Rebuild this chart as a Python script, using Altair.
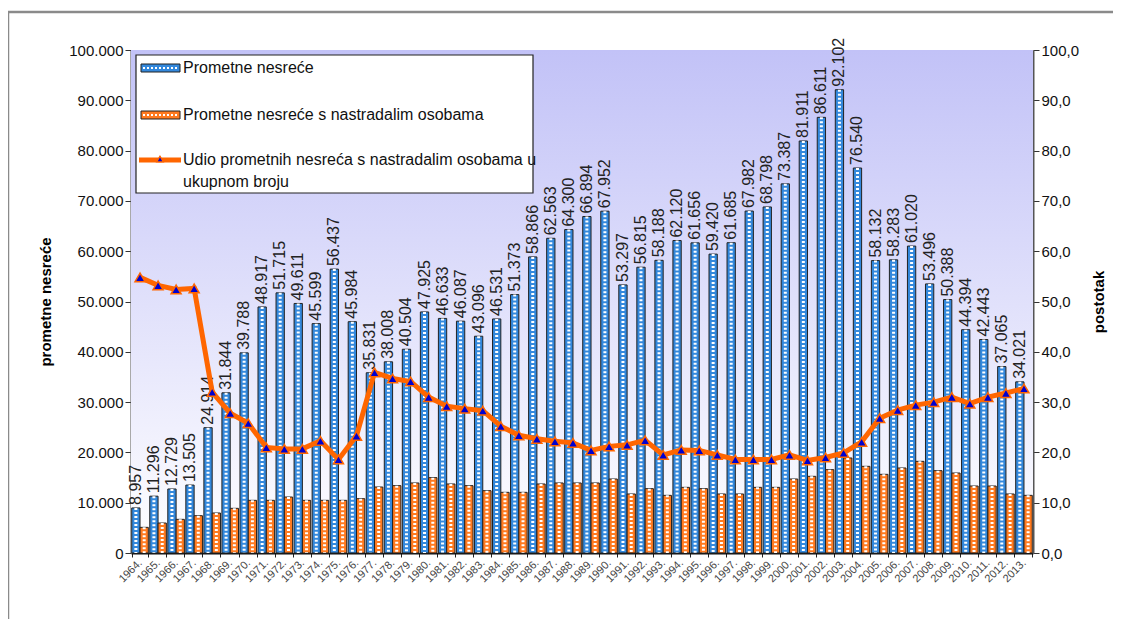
import altair as alt
import pandas as pd

years = ["1964.", "1965.", "1966.", "1967.", "1968.", "1969.", "1970.", "1971.", "1972.", "1973.",
         "1974.", "1975.", "1976.", "1977.", "1978.", "1979.", "1980.", "1981.", "1982.", "1983.",
         "1984.", "1985.", "1986.", "1987.", "1988.", "1989.", "1990.", "1991.", "1992.", "1993.",
         "1994.", "1995.", "1996.", "1997.", "1998.", "1999.", "2000.", "2001.", "2002.", "2003.",
         "2004.", "2005.", "2006.", "2007.", "2008.", "2009.", "2010.", "2011.", "2012.", "2013."]

total = [8957, 11296, 12729, 13505, 24914, 31844, 39788, 48917, 51715, 49611,
         45599, 56437, 45984, 35831, 38008, 40504, 47925, 46633, 46087, 43096,
         46531, 51373, 58866, 62563, 64300, 66894, 67952, 53297, 56815, 58188,
         62120, 61656, 59420, 61685, 67982, 68798, 73387, 81911, 86611, 92102,
         76540, 58132, 58283, 61020, 53496, 50388, 44394, 42443, 37065, 34021]

injured = [5100, 5960, 6690, 7420, 7950, 8880, 10470, 10470, 11130, 10470,
           10470, 10470, 10800, 13120, 13390, 13920, 14980, 13720, 13390, 12390,
           12060, 12060, 13720, 13920, 13920, 13920, 14710, 11730, 12790, 11460,
           13050, 12790, 11730, 11730, 13050, 13050, 14710, 15240, 16570, 18890,
           17230, 15640, 16900, 18220, 16370, 15900, 13320, 13320, 11730, 11460]

share = [54.8, 53.2, 52.4, 52.6, 32.0, 27.8, 25.8, 21.0, 20.7, 20.7,
         22.3, 18.6, 23.3, 35.9, 34.7, 34.1, 31.0, 29.2, 28.7, 28.3,
         25.2, 23.4, 22.7, 22.2, 21.9, 20.4, 21.2, 21.5, 22.4, 19.5,
         20.5, 20.4, 19.5, 18.6, 18.6, 18.6, 19.5, 18.4, 19.0, 19.9,
         22.1, 26.8, 28.4, 29.4, 30.0, 31.0, 29.7, 31.0, 31.8, 32.7]

S1 = "Prometne nesreće"
S2 = "Prometne nesreće s nastradalim osobama"
S3a = "Udio prometnih nesreća s nastradalim osobama u"
S3b = "ukupnom broju"
left_title = "prometne nesreće"
right_title = "postotak"
left_ticks = [0, 10000, 20000, 30000, 40000, 50000, 60000, 70000, 80000, 90000, 100000]
right_ticks = [0, 10, 20, 30, 40, 50, 60, 70, 80, 90, 100]

BLUE = "#3388dc"
ORANGE = "#ff7a1f"
LINE = "#ff6600"
TRI = "#0000d0"
FONT = "Liberation Sans"

W, H = 902, 503

df = pd.DataFrame({"godina": years, S1: total, S2: injured, "udio": share})

x_enc = alt.X("godina:N", sort=years,
              scale=alt.Scale(paddingInner=0.08, paddingOuter=0.04),
              axis=alt.Axis(title=None, labelAngle=-45, labelAlign="right", labelBaseline="middle",
                            labelFontSize=11, labelColor="#444", labelPadding=4, tickBand="extent",
                            tickSize=4, tickColor="#222", domainColor="#111", domainWidth=2))
xo_enc = alt.XOffset("serija:N", sort=[S1, S2], scale=alt.Scale(paddingInner=0, paddingOuter=0))
y_left = alt.Y("vrijednost:Q", scale=alt.Scale(domain=[0, 100000], nice=False),
               axis=alt.Axis(values=left_ticks, title=left_title,
                             labelExpr="replace(format(datum.value, ','), ',', '.')",
                             labelFontSize=15, labelColor="#111", tickSize=6, tickColor="#333",
                             domainColor="#555", domainWidth=2, grid=False,
                             titleFontSize=15, titleFontWeight="bold", titleAngle=270,
                             titleX=-86, titleY=H / 2, titleBaseline="middle", titleAlign="center"))

base = alt.Chart(df)
folded = base.transform_fold([S1, S2], as_=["serija", "vrijednost"])

bg = alt.Chart(alt.Data(values=[{"a": 1}])).mark_rect(
    fill=alt.Gradient(gradient="linear",
                      stops=[alt.GradientStop(color="#c2c2f7", offset=0),
                             alt.GradientStop(color="#ffffff", offset=1)],
                      x1=0, x2=0, y1=0, y2=1)
).encode(x=alt.value(0), x2=alt.value(W), y=alt.value(0), y2=alt.value(H))

bars = folded.mark_bar(stroke="#222", strokeWidth=1).encode(
    x=x_enc, xOffset=xo_enc, y=y_left,
    fill=alt.Fill("serija:N", scale=alt.Scale(domain=[S1, S2], range=[BLUE, ORANGE]), legend=None),
)
dots = folded.mark_rule(color="white", strokeWidth=3, strokeDash=[2, 2]).encode(
    x=x_enc, xOffset=xo_enc, y=y_left, y2=alt.datum(0)
)
labels = folded.transform_filter(alt.datum.serija == S1).transform_calculate(
    lbl="replace(format(datum.vrijednost, ','), ',', '.')"
).mark_text(angle=270, align="left", baseline="middle", dx=3, fontSize=16, font=FONT, color="#222").encode(
    x=x_enc, xOffset=xo_enc, y=y_left, text="lbl:N"
)

left_group = alt.layer(bg, bars, dots, labels)

y_right = alt.Y("udio:Q", scale=alt.Scale(domain=[0, 100], nice=False),
                axis=alt.Axis(orient="right", values=right_ticks, title=right_title,
                              labelExpr="replace(format(datum.value, '.1f'), '.', ',')",
                              labelFontSize=15, labelColor="#111", tickSize=6, tickColor="#333",
                              domainColor="#555", domainWidth=2, grid=False,
                              titleFontSize=15, titleFontWeight="bold", titleAngle=270,
                              titleX=65, titleY=H / 2, titleBaseline="middle", titleAlign="center"))
line = base.mark_line(color=LINE, strokeWidth=5).encode(x=x_enc, y=y_right)
pts = base.mark_point(shape="triangle-up", filled=True, fill=TRI, stroke=LINE, strokeWidth=1.5,
                      size=100, opacity=1).encode(x=x_enc, y=y_right)
right_group = alt.layer(line, pts)

one = alt.Data(values=[{"a": 1}])
lg_box = alt.Chart(one).mark_rect(fill="white", stroke="#222", strokeWidth=1.2).encode(
    x=alt.value(5), x2=alt.value(402), y=alt.value(5), y2=alt.value(143))
lg_b = alt.Chart(one).mark_rect(fill=BLUE, stroke="#222", strokeWidth=1).encode(
    x=alt.value(10), x2=alt.value(49), y=alt.value(14), y2=alt.value(22))
lg_bd = alt.Chart(one).mark_rule(color="white", strokeWidth=2, strokeDash=[2, 2]).encode(
    x=alt.value(12), x2=alt.value(47), y=alt.value(18))
lg_o = alt.Chart(one).mark_rect(fill=ORANGE, stroke="#222", strokeWidth=1).encode(
    x=alt.value(10), x2=alt.value(49), y=alt.value(61), y2=alt.value(69))
lg_od = alt.Chart(one).mark_rule(color="white", strokeWidth=2, strokeDash=[2, 2]).encode(
    x=alt.value(12), x2=alt.value(47), y=alt.value(65))
lg_l = alt.Chart(one).mark_rule(color=LINE, strokeWidth=5).encode(
    x=alt.value(8), x2=alt.value(50), y=alt.value(110))
lg_p = alt.Chart(one).mark_point(shape="triangle-up", filled=True, fill=TRI, stroke=LINE,
                                 strokeWidth=1.2, size=45, opacity=1).encode(
    x=alt.value(29), y=alt.value(109))
legend_texts = [(S1, 18), (S2, 65), (S3a, 110), (S3b, 132)]
lg_txt = [alt.Chart(alt.Data(values=[{"t": t}])).mark_text(
    align="left", baseline="middle", fontSize=16, font=FONT, color="#111").encode(
    x=alt.value(52), y=alt.value(yy), text="t:N") for t, yy in legend_texts]

frame = alt.Chart(one).mark_rect(fillOpacity=0, stroke="#8a8a8a", strokeWidth=2.5, clip=False).encode(
    x=alt.value(-123), x2=alt.value(W + 300), y=alt.value(-38), y2=alt.value(H + 300))

chart = alt.layer(
    left_group, right_group, lg_box, lg_b, lg_bd, lg_o, lg_od, lg_l, lg_p, *lg_txt, frame
).resolve_scale(y="independent").properties(
    width=W, height=H,
    autosize=alt.AutoSizeParams(type="none"),
    padding={"left": 123, "top": 42, "right": 80, "bottom": 66},
).configure_view(stroke="#8c8c8c", strokeWidth=1.5).configure_axis(
    labelFont=FONT, titleFont=FONT
).configure(background="white")

chart.save("out.html", embed_options={"renderer": "svg", "actions": False})
